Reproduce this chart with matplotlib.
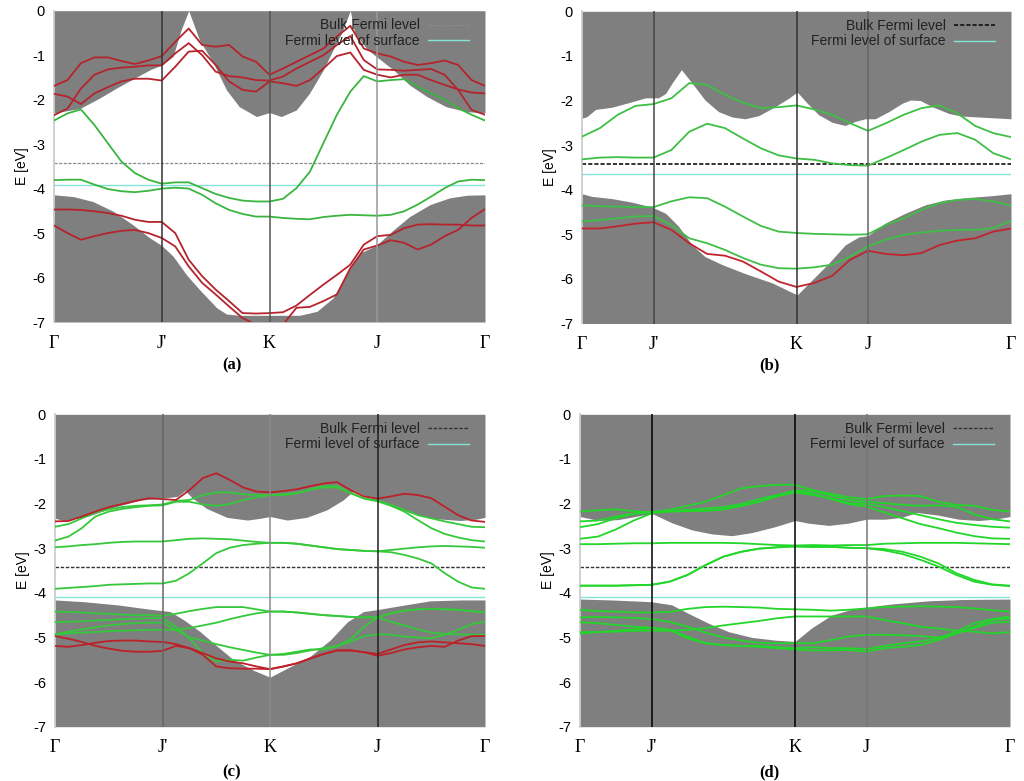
import numpy as np
import matplotlib
matplotlib.use('Agg')
import matplotlib.pyplot as plt

# k-path sampling, panels a/c have 4 equal segments, panels b/d are 6 units long
k_ac = np.linspace(0, 4, 33)
k_bd = np.linspace(0, 6, 25)

# Panel (a): projected bulk bands
a_up_x = [0, .24, .42, .58, .73, .89, 1, 1.105, 1.18, 1.25, 1.35, 1.48, 1.6, 1.72, 1.88, 2, 2.11, 2.25, 2.37, 2.5, 2.59, 2.67, 2.75, 2.79, 2.9, 2.99, 3.15, 3.3, 3.46, 3.64, 3.83, 4]
a_up_y = [-2.3, -2.2, -1.97, -1.74, -1.54, -1.33, -1.22, -1.03, -.43, 0, -.66, -1.18, -1.78, -2.16, -2.38, -2.29, -2.38, -2.23, -1.86, -1.33, -.88, -.5, 0, -.5, -.85, -1.03, -1.33, -1.67, -1.93, -2.16, -2.27, -2.3]
a_lo_x = [0, .18, .36, .55, .73, .89, 1, 1.105, 1.23, 1.35, 1.51, 1.6, 1.72, 2, 2.28, 2.44, 2.59, 2.72, 2.84, 2.99, 3.15, 3.3, 3.49, 3.67, 3.83, 4]
a_lo_y = [-4.14, -4.18, -4.29, -4.51, -4.81, -5.11, -5.28, -5.52, -5.94, -6.27, -6.68, -6.82, -6.85, -6.85, -6.85, -6.76, -6.46, -5.9, -5.45, -5.28, -4.93, -4.63, -4.36, -4.21, -4.15, -4.14]

# Panel (a): surface states
a_red1 = [-1.69, -1.56, -1.18, -1.05, -1.05, -1.13, -1.2, -1.12, -1.02, -.7, -.4, -.77, -.81, -.77, -1.03, -1.15, -1.44, -1.3, -1.15, -1.0, -.85, -.58, -.34, -.85, -.96, -1.03, -1.15, -1.22, -1.18, -1.12, -1.22, -1.56, -1.69]
a_red2 = [-2.35, -2.2, -1.75, -1.44, -1.32, -1.28, -1.26, -1.23, -1.23, -.96, -.73, -1.0, -1.37, -1.47, -1.5, -1.56, -1.57, -1.48, -1.3, -1.15, -1.0, -.77, -.57, -1.11, -1.32, -1.33, -1.35, -1.33, -1.31, -1.44, -1.78, -2.23, -2.34]
a_red3 = [-1.87, -1.93, -2.1, -1.86, -1.72, -1.59, -1.53, -1.53, -1.57, -1.26, -.92, -.9, -1.22, -1.59, -1.78, -1.82, -1.59, -1.63, -1.69, -1.56, -1.3, -1.02, -.94, -1.33, -1.44, -1.5, -1.44, -1.44, -1.56, -1.67, -1.77, -1.84, -1.86]
a_red4 = [-4.47, -4.47, -4.48, -4.51, -4.55, -4.61, -4.7, -4.75, -4.75, -5.0, -5.6, -5.97, -6.27, -6.53, -6.8, -6.81, -6.8, -6.78, -6.63, -6.39, -6.16, -5.94, -5.71, -5.26, -5.07, -5.04, -4.89, -4.81, -4.8, -4.81, -4.81, -4.83, -4.83]
a_red5 = [-4.83, -5.0, -5.15, -5.07, -5.0, -4.95, -4.93, -5.0, -5.11, -5.3, -5.75, -6.12, -6.38, -6.65, -6.91, -7.06, -7.3, -7.06, -6.68, -6.66, -6.53, -6.38, -5.79, -5.37, -5.28, -5.16, -5.22, -5.37, -5.26, -5.07, -4.93, -4.66, -4.46]
a_green1 = [-2.47, -2.31, -2.22, -2.57, -2.98, -3.39, -3.65, -3.8, -3.89, -3.86, -3.86, -3.99, -4.12, -4.21, -4.27, -4.29, -4.29, -4.23, -3.99, -3.62, -2.98, -2.34, -1.82, -1.47, -1.59, -1.56, -1.54, -1.71, -1.86, -2.0, -2.19, -2.34, -2.47]
a_green2 = [-3.81, -3.8, -3.8, -3.91, -4.01, -4.06, -4.08, -4.05, -4.0, -3.98, -4.0, -4.14, -4.33, -4.48, -4.57, -4.63, -4.63, -4.66, -4.68, -4.69, -4.64, -4.61, -4.59, -4.6, -4.61, -4.59, -4.51, -4.36, -4.18, -3.99, -3.84, -3.8, -3.81]

# Panel (b)
b_up_x = [0, .07, .19, .42, .65, .89, 1.07, 1.17, 1.26, 1.39, 1.54, 1.72, 1.91, 2.1, 2.28, 2.47, 2.7, 2.89, 3.01, 3.15, 3.31, 3.5, 3.68, 3.82, 3.96, 4.1, 4.29, 4.48, 4.59, 4.73, 4.9, 5.13, 5.31, 5.55, 6]
b_up_y = [-2.4, -2.36, -2.2, -2.15, -2.05, -1.94, -1.94, -1.84, -1.61, -1.31, -1.61, -1.99, -2.25, -2.37, -2.41, -2.34, -2.14, -1.95, -1.81, -2.06, -2.32, -2.49, -2.56, -2.47, -2.41, -2.41, -2.25, -2.06, -1.99, -2.0, -2.14, -2.29, -2.35, -2.37, -2.41]
b_lo_x = [0, .14, .42, .7, .98, 1.17, 1.35, 1.54, 1.72, 1.96, 2.28, 2.66, 3.01, 3.22, 3.45, 3.68, 3.87, 4, 4.24, 4.52, 4.8, 5.08, 5.36, 5.69, 6]
b_lo_y = [-4.09, -4.15, -4.2, -4.28, -4.39, -4.53, -4.82, -5.24, -5.5, -5.68, -5.88, -6.09, -6.36, -6.02, -5.65, -5.24, -5.06, -5.03, -4.75, -4.53, -4.34, -4.23, -4.18, -4.14, -4.09]
b_green1 = [-2.81, -2.62, -2.32, -2.12, -2.08, -1.95, -1.61, -1.65, -1.87, -2.05, -2.17, -2.15, -2.11, -2.2, -2.32, -2.51, -2.68, -2.51, -2.32, -2.17, -2.11, -2.29, -2.57, -2.73, -2.82]
b_green2 = [-3.32, -3.28, -3.27, -3.28, -3.28, -3.11, -2.7, -2.52, -2.62, -2.85, -3.07, -3.23, -3.3, -3.33, -3.41, -3.45, -3.46, -3.29, -3.11, -2.92, -2.77, -2.73, -2.88, -3.18, -3.32]
b_green3 = [-4.35, -4.37, -4.38, -4.39, -4.39, -4.26, -4.17, -4.19, -4.38, -4.6, -4.81, -4.94, -4.97, -4.99, -5.0, -5.01, -5.0, -4.79, -4.64, -4.45, -4.3, -4.23, -4.21, -4.26, -4.36]
b_green4 = [-4.71, -4.68, -4.64, -4.6, -4.59, -4.79, -5.09, -5.2, -5.35, -5.53, -5.68, -5.76, -5.77, -5.74, -5.68, -5.5, -5.27, -5.12, -5.01, -4.96, -4.92, -4.9, -4.9, -4.86, -4.7]
b_red1 = [-4.87, -4.87, -4.82, -4.76, -4.73, -4.9, -5.2, -5.44, -5.48, -5.61, -5.83, -6.06, -6.18, -6.09, -5.93, -5.57, -5.37, -5.44, -5.47, -5.42, -5.24, -5.14, -5.09, -4.94, -4.87]

# Panel (c)
c_up_x = [0, .08, .3, .55, .8, 1, 1.14, 1.21, 1.28, 1.41, 1.6, 1.79, 1.91, 2, 2.16, 2.34, 2.53, 2.68, 2.78, 2.87, 2.99, 3.21, 3.49, 3.77, 3.92, 4]
c_up_y = [-2.33, -2.38, -2.29, -2.08, -1.92, -1.88, -1.84, -1.71, -1.88, -2.11, -2.31, -2.37, -2.33, -2.29, -2.37, -2.31, -2.14, -1.92, -1.71, -1.81, -1.92, -2.14, -2.33, -2.38, -2.35, -2.31]
c_lo_x = [0, .27, .58, .89, 1.07, 1.2, 1.35, 1.51, 1.66, 1.85, 2, 2.16, 2.37, 2.56, 2.72, 2.87, 2.99, 3.21, 3.49, 3.77, 4]
c_lo_y = [-4.16, -4.2, -4.27, -4.37, -4.42, -4.61, -4.87, -5.2, -5.5, -5.74, -5.89, -5.69, -5.43, -5.06, -4.65, -4.42, -4.38, -4.29, -4.18, -4.16, -4.16]
c_red1 = [-2.4, -2.39, -2.29, -2.18, -2.08, -2.01, -1.94, -1.88, -1.9, -1.92, -1.7, -1.43, -1.32, -1.47, -1.64, -1.73, -1.75, -1.72, -1.68, -1.61, -1.55, -1.52, -1.7, -1.84, -1.89, -1.84, -1.78, -1.81, -1.88, -2.07, -2.26, -2.38, -2.41]
c_red2 = [-4.97, -5.03, -5.1, -5.19, -5.25, -5.3, -5.32, -5.32, -5.3, -5.19, -5.24, -5.39, -5.65, -5.69, -5.7, -5.7, -5.71, -5.65, -5.58, -5.47, -5.37, -5.29, -5.29, -5.33, -5.37, -5.27, -5.17, -5.11, -5.09, -5.11, -5.13, -5.15, -5.19]
c_red3 = [-5.19, -5.21, -5.17, -5.12, -5.08, -5.07, -5.07, -5.09, -5.1, -5.15, -5.24, -5.35, -5.47, -5.54, -5.58, -5.65, -5.71, -5.65, -5.58, -5.47, -5.37, -5.29, -5.29, -5.33, -5.41, -5.35, -5.27, -5.22, -5.19, -5.21, -5.07, -4.97, -4.97]
c_green1 = [-2.52, -2.46, -2.33, -2.2, -2.13, -2.08, -2.05, -2.04, -2.02, -1.94, -1.92, -1.81, -1.75, -1.75, -1.79, -1.81, -1.81, -1.79, -1.76, -1.68, -1.61, -1.61, -1.76, -1.88, -1.93, -2.03, -2.14, -2.26, -2.33, -2.4, -2.46, -2.52, -2.53]
c_green2 = [-2.83, -2.74, -2.55, -2.29, -2.18, -2.12, -2.08, -2.05, -2.04, -1.96, -1.96, -2.02, -2.05, -2.01, -1.92, -1.86, -1.81, -1.81, -1.77, -1.69, -1.64, -1.64, -1.77, -1.89, -1.95, -2.05, -2.18, -2.37, -2.55, -2.68, -2.76, -2.82, -2.85]
c_green3 = [-2.98, -2.96, -2.93, -2.91, -2.88, -2.86, -2.85, -2.85, -2.85, -2.82, -2.79, -2.78, -2.79, -2.8, -2.83, -2.86, -2.88, -2.88, -2.9, -2.94, -2.98, -3.02, -3.04, -3.06, -3.07, -3.04, -3.01, -2.98, -2.96, -2.95, -2.96, -2.97, -2.99]
c_green4 = [-3.91, -3.89, -3.87, -3.85, -3.82, -3.81, -3.8, -3.79, -3.79, -3.73, -3.56, -3.34, -3.11, -2.99, -2.93, -2.9, -2.88, -2.88, -2.9, -2.94, -2.98, -3.02, -3.04, -3.06, -3.07, -3.09, -3.15, -3.23, -3.34, -3.56, -3.75, -3.88, -3.91]
c_green5 = [-4.42, -4.43, -4.44, -4.46, -4.47, -4.49, -4.5, -4.5, -4.51, -4.47, -4.41, -4.36, -4.32, -4.32, -4.32, -4.37, -4.42, -4.42, -4.44, -4.47, -4.5, -4.52, -4.54, -4.55, -4.55, -4.46, -4.4, -4.37, -4.36, -4.37, -4.38, -4.41, -4.44]
c_green6 = [-4.66, -4.65, -4.64, -4.62, -4.61, -4.59, -4.58, -4.57, -4.57, -4.76, -5.02, -5.35, -5.54, -5.5, -5.52, -5.45, -5.39, -5.37, -5.32, -5.27, -5.27, -5.2, -5.09, -4.97, -4.93, -4.94, -4.98, -5.0, -5.02, -4.94, -4.83, -4.7, -4.65]
c_green7 = [-4.93, -4.87, -4.82, -4.77, -4.73, -4.7, -4.68, -4.67, -4.67, -4.83, -5.0, -5.07, -5.15, -5.22, -5.28, -5.34, -5.39, -5.39, -5.35, -5.29, -5.24, -5.19, -5.04, -4.76, -4.55, -4.65, -4.73, -4.82, -4.89, -4.92, -4.93, -4.94, -4.94]
c_green8 = [-4.94, -4.91, -4.89, -4.88, -4.86, -4.85, -4.84, -4.83, -4.83, -4.83, -4.79, -4.73, -4.67, -4.59, -4.52, -4.46, -4.42, -4.42, -4.44, -4.47, -4.5, -4.52, -4.54, -4.55, -4.55, -4.46, -4.4, -4.37, -4.36, -4.37, -4.38, -4.41, -4.44]

# Panel (d)
d_up_x = [0, .26, .53, .77, 1, 1.28, 1.56, 1.84, 2.12, 2.4, 2.72, 3, 3.19, 3.47, 3.74, 4, 4.26, 4.49, 4.7, 5, 5.28, 5.56, 5.79, 6]
d_up_y = [-2.29, -2.38, -2.36, -2.29, -2.22, -2.43, -2.59, -2.68, -2.72, -2.65, -2.52, -2.38, -2.44, -2.49, -2.44, -2.35, -2.35, -2.31, -2.2, -2.26, -2.35, -2.38, -2.35, -2.29]
d_lo_x = [0, .44, 1, 1.28, 1.51, 1.79, 2.07, 2.4, 2.72, 3, 3.23, 3.51, 3.79, 4, 4.35, 4.86, 5.33, 6]
d_lo_y = [-4.14, -4.16, -4.2, -4.27, -4.46, -4.68, -4.87, -5.0, -5.06, -5.09, -4.79, -4.5, -4.37, -4.32, -4.25, -4.18, -4.15, -4.14]
d_green1 = [-2.18, -2.15, -2.13, -2.17, -2.2, -2.14, -2.05, -1.96, -1.81, -1.66, -1.61, -1.58, -1.58, -1.7, -1.78, -1.86, -1.9, -1.83, -1.82, -1.83, -1.96, -2.03, -2.05, -2.14, -2.18]
d_green2 = [-2.4, -2.38, -2.29, -2.22, -2.18, -2.17, -2.17, -2.16, -2.13, -2.05, -1.96, -1.81, -1.71, -1.71, -1.82, -1.92, -1.96, -1.99, -2.03, -2.05, -2.04, -2.07, -2.24, -2.35, -2.4]
d_green3 = [-2.53, -2.46, -2.33, -2.23, -2.2, -2.18, -2.17, -2.16, -2.13, -2.05, -1.96, -1.84, -1.75, -1.81, -1.88, -1.99, -2.01, -2.08, -2.17, -2.26, -2.35, -2.43, -2.48, -2.52, -2.54]
d_green4 = [-2.79, -2.74, -2.58, -2.38, -2.22, -2.17, -2.14, -2.11, -2.08, -2.01, -1.9, -1.81, -1.73, -1.77, -1.9, -2.01, -2.07, -2.2, -2.33, -2.46, -2.55, -2.65, -2.73, -2.78, -2.79]
d_green5 = [-2.91, -2.91, -2.9, -2.89, -2.89, -2.88, -2.88, -2.88, -2.88, -2.89, -2.91, -2.93, -2.94, -2.93, -2.94, -2.93, -2.93, -2.9, -2.89, -2.88, -2.88, -2.88, -2.89, -2.9, -2.91]
d_green6 = [-3.84, -3.84, -3.84, -3.83, -3.82, -3.75, -3.6, -3.38, -3.19, -3.08, -3.01, -2.98, -2.96, -2.97, -2.97, -2.99, -3.0, -3.05, -3.13, -3.26, -3.41, -3.6, -3.75, -3.82, -3.85]
d_green7 = [-3.84, -3.84, -3.84, -3.83, -3.82, -3.75, -3.6, -3.38, -3.19, -3.08, -3.01, -2.98, -2.96, -2.97, -2.97, -2.99, -3.0, -3.02, -3.08, -3.19, -3.34, -3.56, -3.71, -3.81, -3.84]
d_green8 = [-4.38, -4.41, -4.42, -4.44, -4.44, -4.43, -4.36, -4.32, -4.31, -4.32, -4.33, -4.36, -4.37, -4.38, -4.4, -4.38, -4.35, -4.32, -4.31, -4.3, -4.31, -4.32, -4.35, -4.39, -4.42]
d_green9 = [-4.55, -4.54, -4.55, -4.56, -4.59, -4.65, -4.76, -4.89, -5.0, -5.07, -5.12, -5.13, -5.13, -5.13, -5.06, -4.98, -4.94, -4.94, -4.95, -4.97, -5.0, -4.91, -4.79, -4.67, -4.65]
d_green10 = [-4.66, -4.68, -4.72, -4.76, -4.78, -4.83, -4.98, -5.13, -5.17, -5.19, -5.21, -5.24, -5.27, -5.29, -5.29, -5.28, -5.32, -5.24, -5.21, -5.17, -5.06, -4.91, -4.76, -4.61, -4.57]
d_green11 = [-4.91, -4.88, -4.85, -4.82, -4.79, -4.83, -5.02, -5.13, -5.17, -5.19, -5.19, -5.22, -5.24, -5.22, -5.24, -5.24, -5.26, -5.19, -5.13, -5.09, -5.02, -4.87, -4.68, -4.59, -4.53]
d_green12 = [-4.88, -4.88, -4.87, -4.85, -4.85, -4.85, -4.83, -4.79, -4.73, -4.68, -4.63, -4.57, -4.53, -4.53, -4.53, -4.53, -4.53, -4.61, -4.68, -4.76, -4.8, -4.85, -4.87, -4.91, -4.88]

tick_labels = ['Γ', "J'", 'K', 'J', 'Γ']
y_ticks = [0, -1, -2, -3, -4, -5, -6, -7]

W, H = 1024, 781
GRAY = '#7f7f7f'
CYAN = '#86e3da'

fig = plt.figure(figsize=(W / 100, H / 100), dpi=100)


def band_panel(box, k, ticks, up_x, up_y, lo_x, lo_y, reds, greens, bulk, surface,
               green_col, red_col, vcols, bulk_style, name, name_xy):
    # box is left, right, top, bottom in pixels
    left, right, top, bottom = box
    ax = fig.add_axes([left / W, 1 - bottom / H, (right - left) / W, (bottom - top) / H])
    ax.fill_between(up_x, up_y, 0, color=GRAY, lw=0, zorder=1)
    ax.fill_between(lo_x, -7, lo_y, color=GRAY, lw=0, zorder=1)
    ax.axhline(bulk, ls='--', dashes=(2.5, 1.2), zorder=2, label='Bulk Fermi level', **bulk_style)
    ax.axhline(surface, color=CYAN, lw=1.0, zorder=2, label='Fermi level of surface')
    for g in greens:
        ax.plot(k, g, color=green_col, lw=1.3, zorder=3)
    for r in reds:
        ax.plot(k, r, color=red_col, lw=1.3, zorder=4)
    for t, c in zip(ticks[1:-1], vcols):
        ax.axvline(t, color=c, lw=1.1, zorder=5)
    ax.set_xlim(ticks[0], ticks[-1])
    ax.set_ylim(-7, 0)
    ax.set_xticks(ticks, tick_labels, family='Liberation Serif', fontsize=13)
    ax.set_yticks(y_ticks, [str(v) for v in y_ticks], family='Liberation Sans', fontsize=10.5)
    ax.tick_params(axis='x', length=0, pad=9)
    ax.tick_params(axis='y', length=0, pad=6.5)
    ax.set_ylabel('E [eV]', family='Liberation Sans', fontsize=10, labelpad=2)
    for s in ax.spines.values():
        s.set_visible(False)
    ax.spines['left'].set_visible(True)
    ax.spines['left'].set_color('#c8c8c8')
    ax.spines['left'].set_linewidth(1.2)
    leg = ax.legend(loc='upper right', bbox_to_anchor=(0.98, 1.0), frameon=False, markerfirst=False,
                    prop={'family': 'Liberation Sans', 'size': 10.1}, handlelength=2.9,
                    handletextpad=0.6, labelspacing=0.1, borderaxespad=0.15)
    for t in leg.get_texts():
        t.set_color('#222222')
    fig.text(name_xy[0] / W, 1 - name_xy[1] / H, name, family='Liberation Serif', weight='bold',
             fontsize=12, ha='center', va='center')
    return ax


ticks_ac = [0, 1, 2, 3, 4]
ticks_bd = [0, 1, 3, 4, 6]

band_panel((54, 485, 10.7, 322), k_ac, ticks_ac, a_up_x, a_up_y, a_lo_x, a_lo_y,
           [a_red1, a_red2, a_red3, a_red4, a_red5], [a_green1, a_green2], -3.42, -3.92,
           '#3ab53f', '#b5242c', ['#333333', '#555555', '#999999'],
           {'color': '#8a8a8a', 'lw': 0.9}, '(a)', (232, 365))
band_panel((582, 1011, 11.3, 323.5), k_bd, ticks_bd, b_up_x, b_up_y, b_lo_x, b_lo_y,
           [b_red1], [b_green1, b_green2, b_green3, b_green4], -3.43, -3.65,
           '#3fbf45', '#c0242c', ['#444444', '#333333', '#666666'],
           {'color': '#111111', 'lw': 1.2}, '(b)', (769, 365))
band_panel((55, 485, 414.3, 726.7), k_ac, ticks_ac, c_up_x, c_up_y, c_lo_x, c_lo_y,
           [c_red1, c_red2, c_red3],
           [c_green1, c_green2, c_green3, c_green4, c_green5, c_green6, c_green7, c_green8], -3.43, -4.1,
           '#35c83a', '#bd2028', ['#666666', '#8a8a8a', '#222222'],
           {'color': '#333333', 'lw': 1.0}, '(c)', (232, 772))
band_panel((580, 1010, 414.3, 726.7), k_bd, ticks_bd, d_up_x, d_up_y, d_lo_x, d_lo_y, [],
           [d_green1, d_green2, d_green3, d_green4, d_green5, d_green6, d_green7, d_green8, d_green9,
            d_green10, d_green11, d_green12], -3.43, -4.1,
           '#22d62a', '#bd2028', ['#000000', '#000000', '#777777'],
           {'color': '#333333', 'lw': 1.0}, '(d)', (769, 772))

fig.savefig('out.png', dpi=100)
